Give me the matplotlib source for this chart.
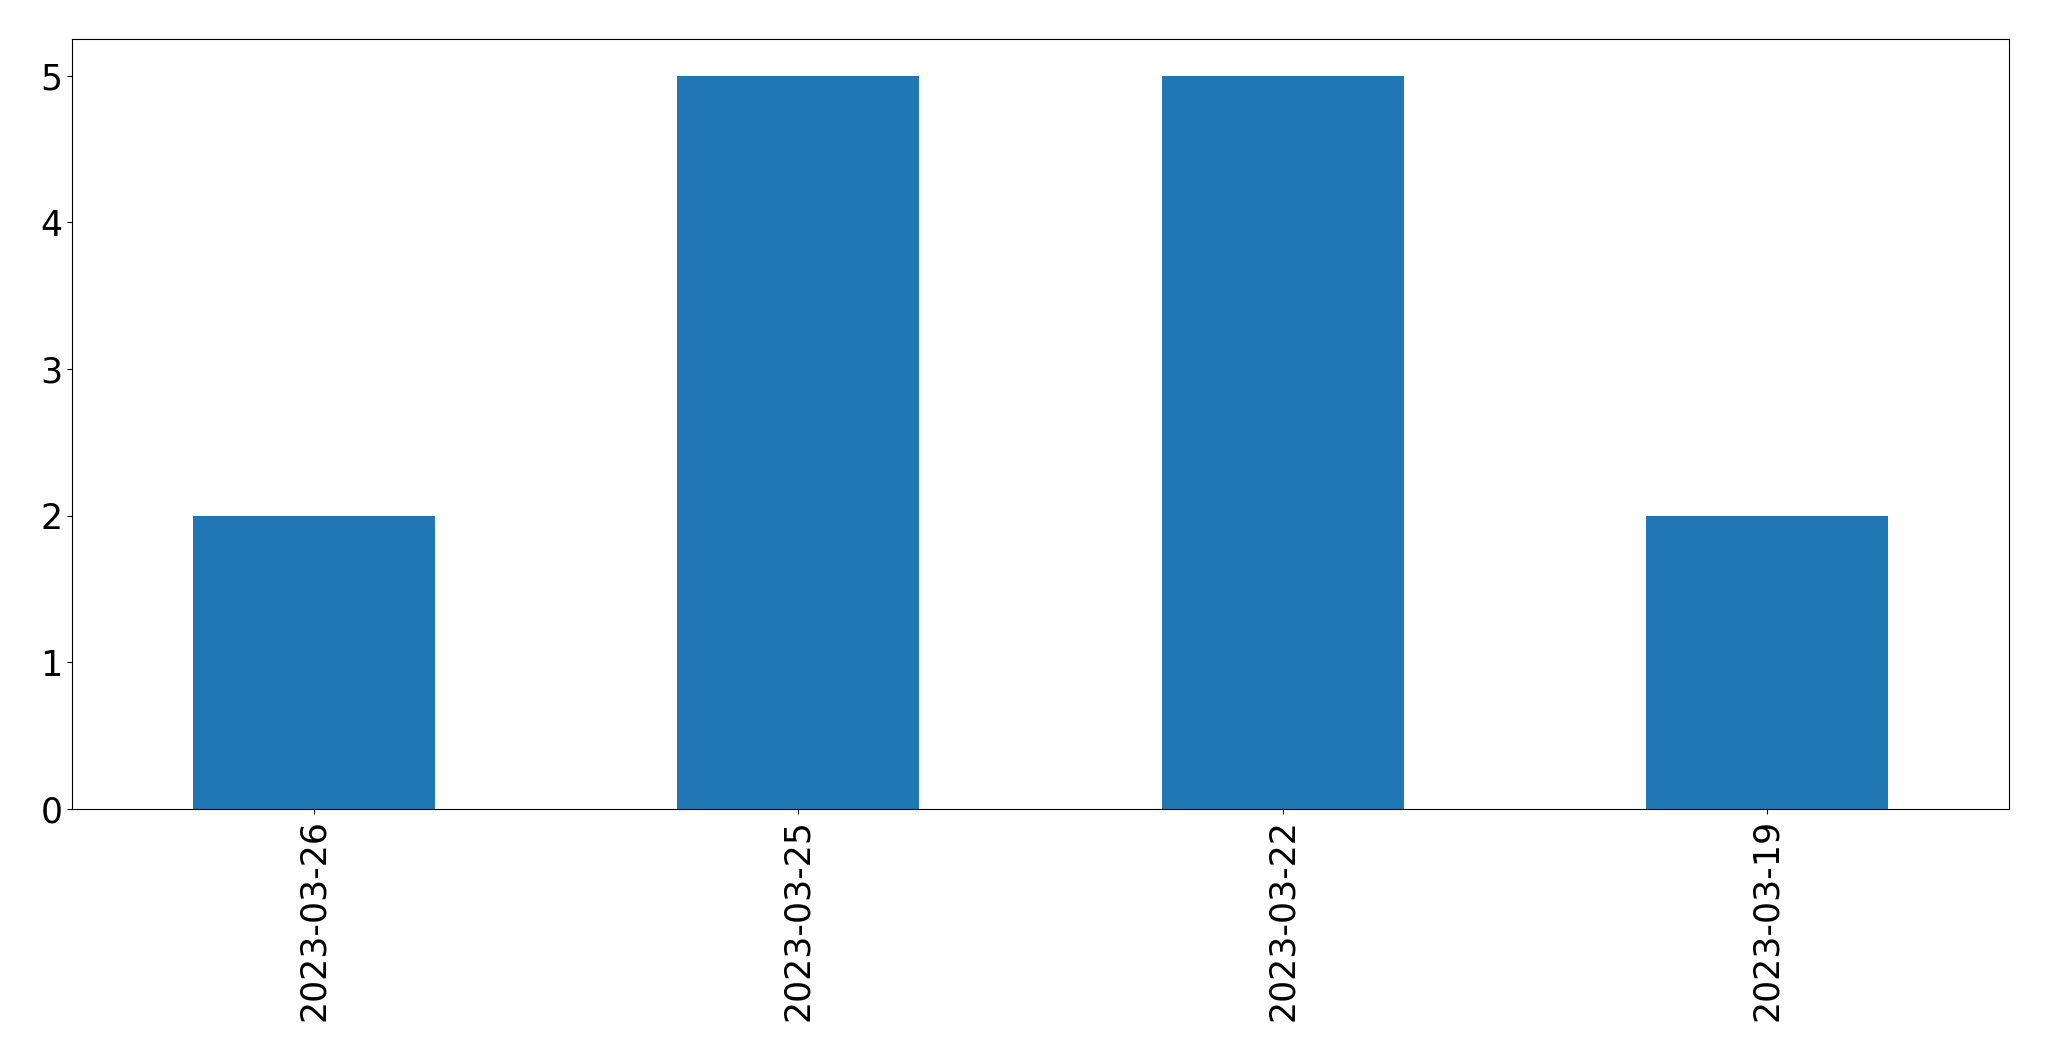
import matplotlib
matplotlib.use("Agg")
import matplotlib.pyplot as plt

dates = ["2023-03-26", "2023-03-25", "2023-03-22", "2023-03-19"]
counts = [2, 5, 5, 2]

fig = plt.figure(figsize=(20.49, 10.61), dpi=100)
ax = fig.add_axes([72/2049, 1-809/1061, (2009-72)/2049, (809-39)/1061])
x = list(range(len(dates)))
ax.bar(x, counts, width=0.5, color="#1f77b4")
ax.set_xlim(-0.5, len(dates) - 0.5)
ax.set_ylim(0, 5.25)
ax.set_xticks(x)
ax.set_xticklabels(dates, rotation=90)
ax.tick_params(axis="both", labelsize=25)
fig.savefig("out.png", dpi=100)
